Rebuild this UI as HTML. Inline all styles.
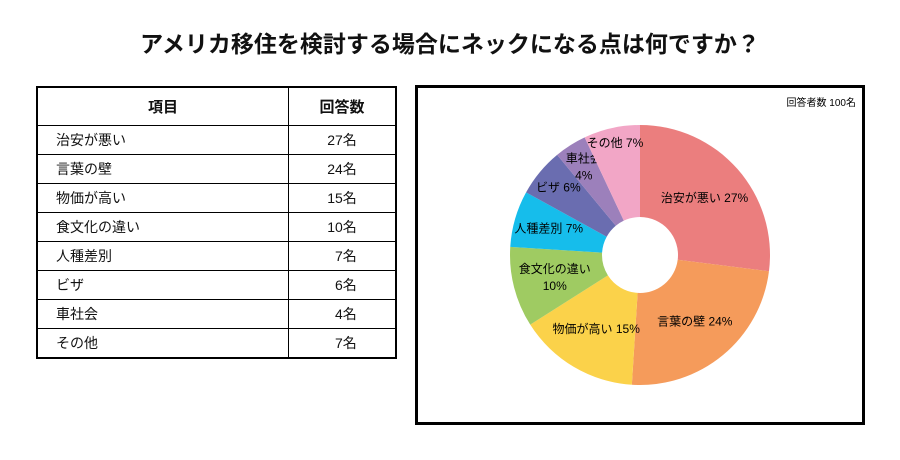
<!DOCTYPE html>
<html><head><meta charset="utf-8"><style>
body{margin:0;width:900px;height:460px;background:#fff;font-family:"Liberation Sans","Noto Sans CJK JP",sans-serif;position:relative;overflow:hidden;color:#111}
h1{position:absolute;top:29px;left:0;width:900px;margin:0;text-align:center;font-size:23px;font-weight:bold;line-height:30px}
table{position:absolute;left:36px;top:86px;width:361px;border-collapse:collapse;border:2.5px solid #000;font-size:14px}
td,th{border:1px solid #000;height:28px;padding:0}
th{height:37px;font-weight:bold;font-size:15px}
td.n{padding-left:18px}td.v{text-align:center;width:106px}
#chart{position:absolute;left:415px;top:85px;width:444px;height:334px;border:3px solid #000}
</style></head><body>
<h1>アメリカ移住を検討する場合にネックになる点は何ですか？</h1>
<table>
<tr><th>項目</th><th>回答数</th></tr>
<tr><td class="n">治安が悪い</td><td class="v">27名</td></tr>
<tr><td class="n">言葉の壁</td><td class="v">24名</td></tr>
<tr><td class="n">物価が高い</td><td class="v">15名</td></tr>
<tr><td class="n">食文化の違い</td><td class="v">10名</td></tr>
<tr><td class="n">人種差別</td><td class="v">&nbsp;&nbsp;7名</td></tr>
<tr><td class="n">ビザ</td><td class="v">&nbsp;&nbsp;6名</td></tr>
<tr><td class="n">車社会</td><td class="v">&nbsp;&nbsp;4名</td></tr>
<tr><td class="n">その他</td><td class="v">&nbsp;&nbsp;7名</td></tr>
</table>
<div id="chart">
<svg id="svg" width="444" height="334" xmlns="http://www.w3.org/2000/svg">
<text x="438" y="18" text-anchor="end" font-size="10">回答者数 100名</text>
</svg></div>
<script>
const categories=["治安が悪い","言葉の壁","物価が高い","食文化の違い","人種差別","ビザ","車社会","その他"];
const values=[27,24,15,10,7,6,4,7];
const colors=["#eb7e7e","#f59b5b","#fbd24a","#9fcb62","#16bdeb","#6a6db0","#9c80bb","#f2a6c6"];
const twoLine=[false,false,false,true,false,false,true,false];
const labelRadius=[86,86,86,88,95,106,105,115];
const svg=document.getElementById('svg');const NS="http://www.w3.org/2000/svg";
const cx=222,cy=167,R=130,r0=38;
const total=values.reduce((a,b)=>a+b,0);
function pt(a,rr){return [cx+rr*Math.sin(a),cy-rr*Math.cos(a)];}
let acc=0;
values.forEach((v,i)=>{
 const a0=acc/total*2*Math.PI,a1=(acc+v)/total*2*Math.PI;acc+=v;
 const [x0,y0]=pt(a0,R),[x1,y1]=pt(a1,R),[x2,y2]=pt(a1,r0),[x3,y3]=pt(a0,r0);
 const lg=a1-a0>Math.PI?1:0;
 const p=document.createElementNS(NS,'path');
 p.setAttribute('d',`M${x0},${y0}A${R},${R} 0 ${lg} 1 ${x1},${y1}L${x2},${y2}A${r0},${r0} 0 ${lg} 0 ${x3},${y3}Z`);
 p.setAttribute('fill',colors[i]);
 
 
 svg.appendChild(p);
 const [lx,ly]=pt((a0+a1)/2,labelRadius[i]||86);
 const t=document.createElementNS(NS,'text');
 t.setAttribute('text-anchor','middle');t.setAttribute('font-size','12');
 
 
 const pct=Math.round(v/total*100)+'%';
 if(twoLine[i]){
  const s1=document.createElementNS(NS,'tspan');s1.setAttribute('x',lx);s1.setAttribute('y',ly-4);s1.textContent=categories[i];
  const s2=document.createElementNS(NS,'tspan');s2.setAttribute('x',lx);s2.setAttribute('y',ly+13);s2.textContent=pct;
  t.appendChild(s1);t.appendChild(s2);
 }else{t.setAttribute('x',lx);t.setAttribute('y',ly+4);t.textContent=categories[i]+' '+pct;}
 svg.appendChild(t);
});
</script>
</body></html>
